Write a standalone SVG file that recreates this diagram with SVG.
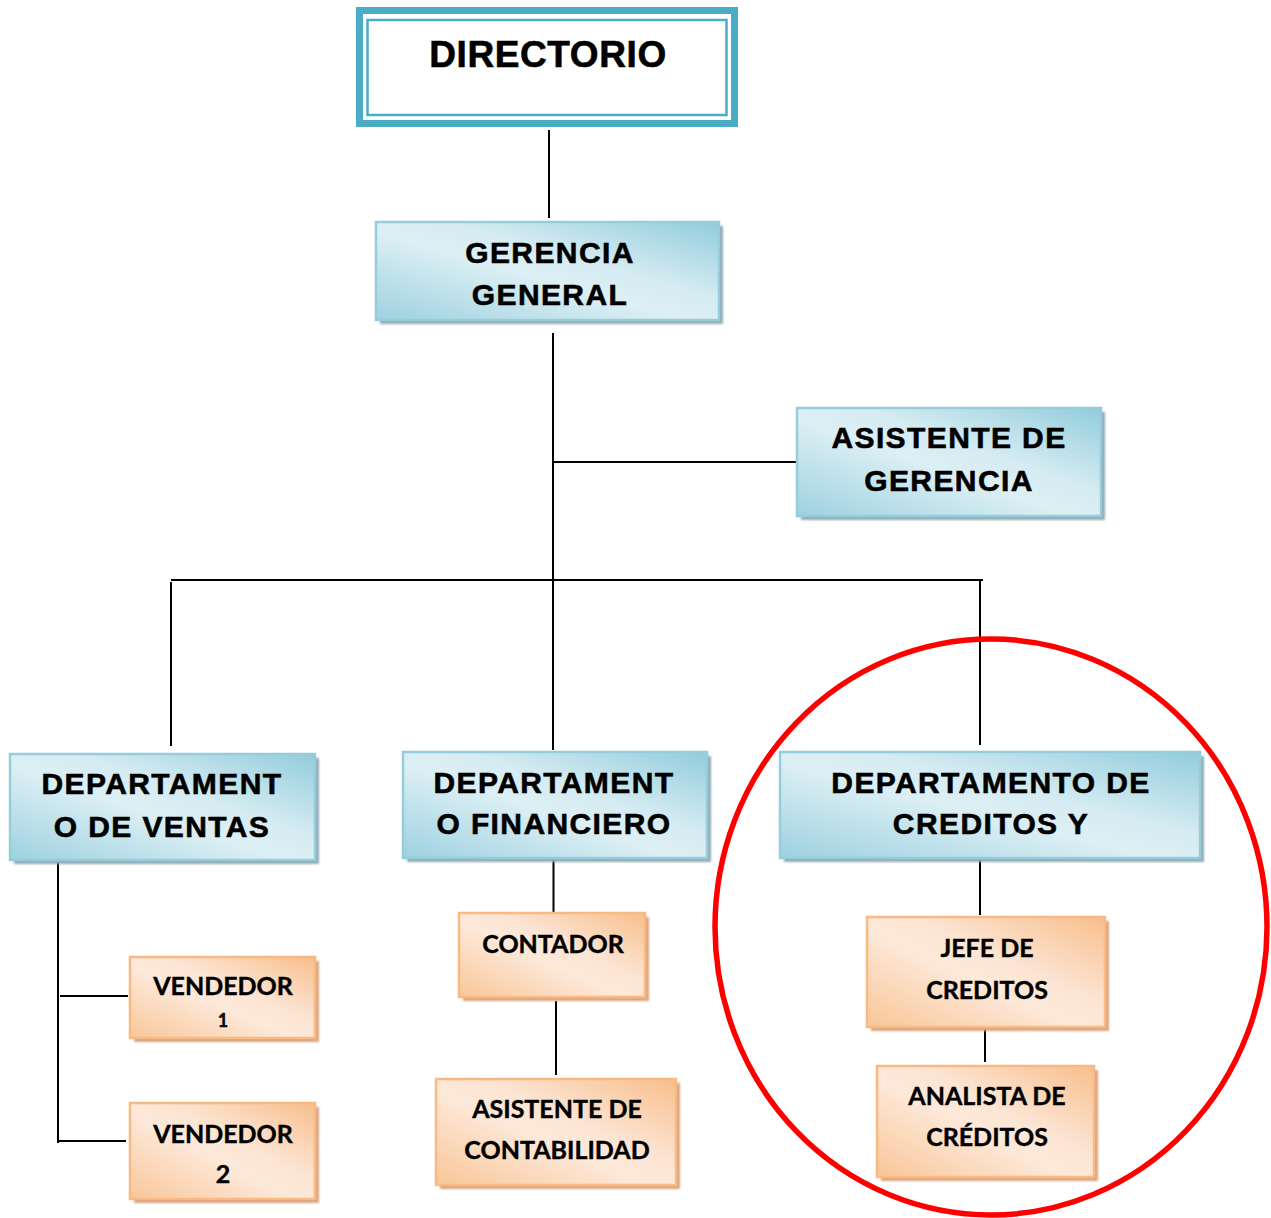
<svg xmlns="http://www.w3.org/2000/svg" width="1271" height="1218" viewBox="0 0 1271 1218">
<style>
.bg{fill:#ffffff}
.conn line{stroke:#000;stroke-width:2}
.shb{fill:#8FAAB5;filter:url(#blur)}
.sho{fill:#D9A57E;filter:url(#blur)}
.bbox{fill:url(#gb);stroke:#96CDDD;stroke-width:2.5}
.obox{fill:url(#go);stroke:#F8B983;stroke-width:2.5}
.tb{font-family:"Liberation Sans",Arial,sans-serif;font-weight:bold;font-size:30px;letter-spacing:1.4px;fill:#000;stroke:#000;stroke-width:0.6px;text-anchor:middle}
.to{font-family:Lato,"Open Sans",sans-serif;font-weight:bold;font-size:25px;fill:#000;stroke:#000;stroke-width:0.4px;text-anchor:middle}
</style>
<defs>
<linearGradient id="gb" x1="0" y1="1" x2="1" y2="0">
<stop offset="0" stop-color="#9DD1E0"/>
<stop offset="0.45" stop-color="#DCEFF4"/>
<stop offset="0.6" stop-color="#D6ECF2"/>
<stop offset="1" stop-color="#92CCDC"/>
</linearGradient>
<linearGradient id="go" x1="0" y1="1" x2="1" y2="0">
<stop offset="0" stop-color="#F9C698"/>
<stop offset="0.45" stop-color="#FDE9DA"/>
<stop offset="0.6" stop-color="#FCE4D2"/>
<stop offset="1" stop-color="#F8BE8C"/>
</linearGradient>
<filter id="blur" x="-10%" y="-10%" width="120%" height="120%">
<feGaussianBlur stdDeviation="1.2"/>
</filter>
</defs>
<rect class="bg" x="0" y="0" width="1271" height="1218"/>

<g id="connectors" class="conn">
<line x1="549" y1="130" x2="549" y2="218"/>
<line x1="553" y1="333" x2="553" y2="750"/>
<line x1="553" y1="462" x2="797" y2="462"/>
<line x1="171" y1="580" x2="983" y2="580"/>
<line x1="171" y1="582" x2="171" y2="746"/>
<line x1="980" y1="580" x2="980" y2="745"/>
<line x1="58" y1="862" x2="58" y2="1143"/>
<line x1="60" y1="996" x2="128" y2="996"/>
<line x1="58" y1="1141" x2="126" y2="1141"/>
<line x1="553.5" y1="858" x2="553.5" y2="913"/>
<line x1="556" y1="1001" x2="556" y2="1075"/>
<line x1="980" y1="860" x2="980" y2="915"/>
<line x1="985" y1="1028" x2="985" y2="1062"/>
</g>

<g id="directorio">
<rect x="359.5" y="10.5" width="375" height="113" fill="#fff" stroke="#4BACC6" stroke-width="7"/>
<rect x="367.5" y="20" width="359" height="95" fill="none" stroke="#4BACC6" stroke-width="2.5"/>
<text class="tb" x="548" y="67" style="font-size:37px;letter-spacing:0.6px">DIRECTORIO</text>
</g>

<g id="gerencia-general">
<rect class="shb" x="380" y="226" width="343" height="98"/>
<rect class="bbox" x="376" y="222" width="343" height="98"/>
<text class="tb" x="550" y="263">GERENCIA</text>
<text class="tb" x="550" y="305">GENERAL</text>
</g>

<g id="asistente-gerencia">
<rect class="shb" x="801" y="412" width="304" height="108"/>
<rect class="bbox" x="797" y="408" width="304" height="108"/>
<text class="tb" x="949" y="448">ASISTENTE DE</text>
<text class="tb" x="949" y="491">GERENCIA</text>
</g>

<g id="dept-ventas">
<rect class="shb" x="14" y="758" width="305" height="106"/>
<rect class="bbox" x="10" y="754" width="305" height="106"/>
<text class="tb" x="162" y="794">DEPARTAMENT</text>
<text class="tb" x="162" y="837">O DE VENTAS</text>
</g>

<g id="dept-financiero">
<rect class="shb" x="407" y="756" width="304" height="106"/>
<rect class="bbox" x="403" y="752" width="304" height="106"/>
<text class="tb" x="554" y="793">DEPARTAMENT</text>
<text class="tb" x="554" y="834">O FINANCIERO</text>
</g>

<g id="dept-creditos">
<rect class="shb" x="784" y="756" width="420" height="106"/>
<rect class="bbox" x="780" y="752" width="420" height="106"/>
<text class="tb" x="991" y="793">DEPARTAMENTO DE</text>
<text class="tb" x="991" y="834">CREDITOS Y</text>
</g>

<g id="vendedor-1">
<rect class="sho" x="134" y="961" width="185" height="81"/>
<rect class="obox" x="130" y="957" width="185" height="81"/>
<text class="to" x="223" y="995">VENDEDOR</text>
<text class="to" x="223" y="1027" style="font-size:18px">1</text>
</g>

<g id="vendedor-2">
<rect class="sho" x="134" y="1107" width="185" height="96"/>
<rect class="obox" x="130" y="1103" width="185" height="96"/>
<text class="to" x="223" y="1143">VENDEDOR</text>
<text class="to" x="223" y="1183">2</text>
</g>

<g id="contador">
<rect class="sho" x="463" y="917" width="186" height="84"/>
<rect class="obox" x="459" y="913" width="186" height="84"/>
<text class="to" x="553" y="953">CONTADOR</text>
</g>

<g id="asistente-contabilidad">
<rect class="sho" x="440" y="1083" width="240" height="106"/>
<rect class="obox" x="436" y="1079" width="240" height="106"/>
<text class="to" x="557" y="1118">ASISTENTE DE</text>
<text class="to" x="557" y="1159">CONTABILIDAD</text>
</g>

<g id="jefe-creditos">
<rect class="sho" x="871" y="921" width="238" height="110"/>
<rect class="obox" x="867" y="917" width="238" height="110"/>
<text class="to" x="987" y="957">JEFE DE</text>
<text class="to" x="987" y="999">CREDITOS</text>
</g>

<g id="analista-creditos">
<rect class="sho" x="881" y="1070" width="217" height="111"/>
<rect class="obox" x="877" y="1066" width="217" height="111"/>
<text class="to" x="987" y="1105">ANALISTA DE</text>
<text class="to" x="987" y="1146">CRÉDITOS</text>
</g>

<g id="highlight">
<ellipse cx="991" cy="927" rx="276" ry="288" fill="none" stroke="#FF0000" stroke-width="5.5"/>
</g>
</svg>
